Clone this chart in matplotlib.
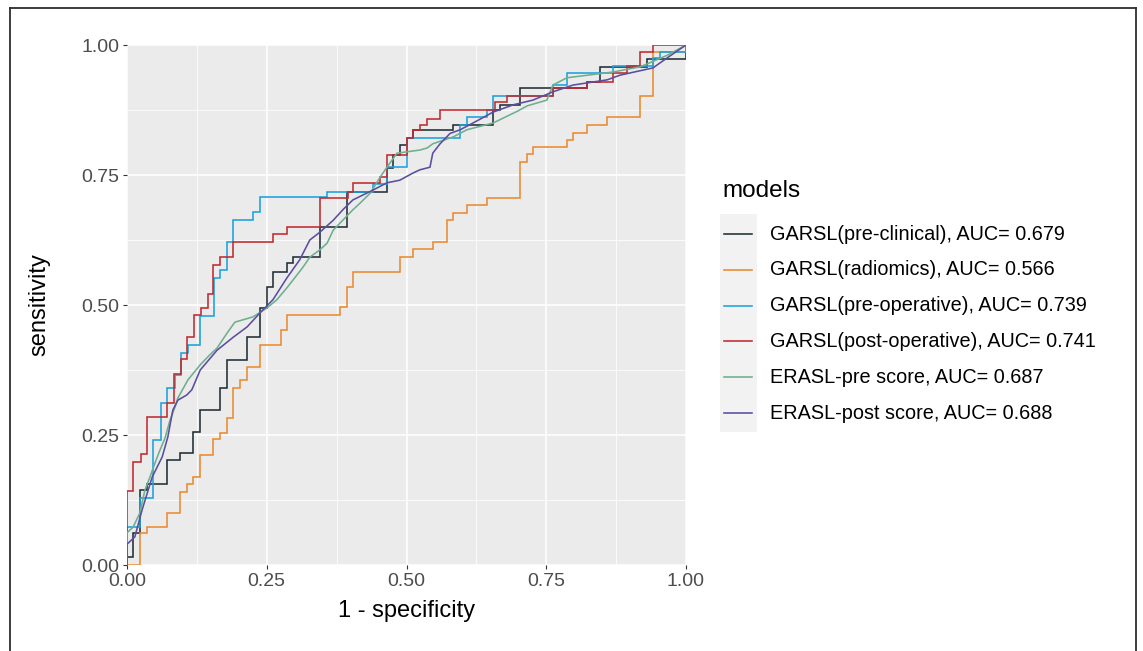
import matplotlib
matplotlib.use('Agg')
import matplotlib.pyplot as plt
from matplotlib.lines import Line2D
from matplotlib.patches import Rectangle

# ---------------- data ----------------
model_names = ["GARSL(pre-clinical)", "GARSL(radiomics)", "GARSL(pre-operative)",
               "GARSL(post-operative)", "ERASL-pre score", "ERASL-post score"]
auc_values = [0.679, 0.566, 0.739, 0.741, 0.687, 0.688]
model_colors = ["#1F2E36", "#EA8A2E", "#1BA2DC", "#BE2A2F", "#6DAF8E", "#5B4DA0"]

# step curves: fpr where the jump happens, tpr after the jump
pre_clinical_fpr = [0, 0, 0.011, 0.023, 0.036, 0.072, 0.095, 0.118, 0.131, 0.166, 0.179, 0.215,
                    0.238, 0.25, 0.261, 0.286, 0.297, 0.345, 0.394, 0.465, 0.476, 0.488, 0.501,
                    0.512, 0.583, 0.655, 0.667, 0.703, 0.823, 0.846, 0.93, 1.0]
pre_clinical_tpr = [0, 0.015, 0.062, 0.144, 0.156, 0.202, 0.215, 0.256, 0.298, 0.34, 0.394, 0.438,
                    0.494, 0.535, 0.563, 0.581, 0.592, 0.65, 0.717, 0.763, 0.788, 0.808, 0.821,
                    0.837, 0.846, 0.875, 0.885, 0.917, 0.929, 0.958, 0.973, 1.0]

radiomics_fpr = [0, 0.023, 0.036, 0.072, 0.095, 0.107, 0.118, 0.131, 0.154, 0.166, 0.179, 0.19,
                 0.202, 0.215, 0.238, 0.275, 0.286, 0.381, 0.394, 0.404, 0.488, 0.512, 0.547,
                 0.572, 0.583, 0.608, 0.644, 0.703, 0.716, 0.726, 0.787, 0.798, 0.823, 0.859,
                 0.918, 0.941, 1.0]
radiomics_tpr = [0, 0.062, 0.073, 0.1, 0.14, 0.156, 0.169, 0.212, 0.242, 0.254, 0.283, 0.34,
                 0.356, 0.381, 0.423, 0.452, 0.481, 0.496, 0.535, 0.563, 0.592, 0.608, 0.621,
                 0.663, 0.677, 0.692, 0.706, 0.775, 0.79, 0.804, 0.817, 0.831, 0.846, 0.862,
                 0.902, 0.987, 1.0]

pre_operative_fpr = [0, 0, 0.023, 0.047, 0.061, 0.072, 0.086, 0.097, 0.109, 0.131, 0.156, 0.166,
                     0.179, 0.19, 0.225, 0.238, 0.358, 0.44, 0.465, 0.501, 0.596, 0.608, 0.644,
                     0.655, 0.762, 0.787, 0.869, 0.941, 0.954, 1.0]
pre_operative_tpr = [0, 0.073, 0.128, 0.24, 0.311, 0.34, 0.365, 0.408, 0.423, 0.478, 0.552, 0.567,
                     0.621, 0.663, 0.679, 0.708, 0.717, 0.733, 0.765, 0.821, 0.846, 0.862, 0.875,
                     0.902, 0.923, 0.946, 0.96, 0.975, 0.987, 1.0]

post_operative_fpr = [0, 0, 0.011, 0.025, 0.035, 0.071, 0.084, 0.096, 0.108, 0.12, 0.132, 0.145,
                      0.154, 0.166, 0.19, 0.261, 0.286, 0.345, 0.395, 0.404, 0.453, 0.465, 0.501,
                      0.512, 0.524, 0.537, 0.56, 0.658, 0.68, 0.762, 0.823, 0.869, 0.894, 0.918,
                      0.941, 1.0]
post_operative_tpr = [0, 0.143, 0.199, 0.213, 0.284, 0.311, 0.367, 0.396, 0.438, 0.481, 0.494, 0.521,
                      0.577, 0.592, 0.621, 0.637, 0.65, 0.706, 0.717, 0.735, 0.746, 0.788, 0.821,
                      0.837, 0.846, 0.858, 0.875, 0.89, 0.902, 0.917, 0.929, 0.946, 0.96, 0.987,
                      1.0, 1.0]

erasl_pre_fpr = [0, 0, 0.011, 0.023, 0.032, 0.041, 0.05, 0.059, 0.068, 0.077, 0.086, 0.091, 0.109,
                 0.131, 0.148, 0.161, 0.179, 0.193, 0.225, 0.25, 0.268, 0.286, 0.297, 0.315, 0.327,
                 0.345, 0.358, 0.369, 0.386, 0.404, 0.417, 0.435, 0.453, 0.465, 0.483, 0.524,
                 0.537, 0.547, 0.583, 0.608, 0.655, 0.699, 0.716, 0.751, 0.762, 0.787, 0.869,
                 0.918, 0.966, 1.0]
erasl_pre_tpr = [0, 0.062, 0.073, 0.1, 0.144, 0.169, 0.196, 0.221, 0.244, 0.279, 0.304, 0.321,
                 0.356, 0.385, 0.404, 0.417, 0.446, 0.467, 0.477, 0.494, 0.51, 0.533, 0.548, 0.573,
                 0.592, 0.606, 0.619, 0.644, 0.663, 0.683, 0.696, 0.715, 0.746, 0.765, 0.792,
                 0.798, 0.802, 0.81, 0.823, 0.837, 0.85, 0.873, 0.883, 0.894, 0.923, 0.937,
                 0.948, 0.958, 0.98, 1.0]

erasl_post_fpr = [0, 0, 0.014, 0.027, 0.045, 0.063, 0.073, 0.082, 0.091, 0.107, 0.116, 0.131,
                  0.161, 0.19, 0.215, 0.238, 0.261, 0.286, 0.309, 0.327, 0.345, 0.369, 0.386,
                  0.404, 0.44, 0.465, 0.488, 0.512, 0.524, 0.542, 0.547, 0.56, 0.578, 0.596,
                  0.619, 0.655, 0.691, 0.726, 0.762, 0.798, 0.859, 0.882, 0.941, 0.966, 1.0]
erasl_post_tpr = [0, 0.04, 0.054, 0.106, 0.169, 0.208, 0.246, 0.298, 0.317, 0.327, 0.337, 0.375,
                  0.413, 0.438, 0.458, 0.485, 0.51, 0.552, 0.587, 0.625, 0.64, 0.663, 0.683,
                  0.702, 0.721, 0.735, 0.74, 0.754, 0.76, 0.765, 0.792, 0.81, 0.83, 0.837,
                  0.85, 0.871, 0.885, 0.894, 0.91, 0.923, 0.933, 0.942, 0.956, 0.975, 1.0]

tick_values = [0.0, 0.25, 0.5, 0.75, 1.0]
tick_labels = ["0.00", "0.25", "0.50", "0.75", "1.00"]
minor_values = [0.125, 0.375, 0.625, 0.875]

curves = [
    (pre_clinical_fpr, pre_clinical_tpr, 'steps-post'),
    (radiomics_fpr, radiomics_tpr, 'steps-post'),
    (pre_operative_fpr, pre_operative_tpr, 'steps-post'),
    (post_operative_fpr, post_operative_tpr, 'steps-post'),
    (erasl_pre_fpr, erasl_pre_tpr, 'default'),
    (erasl_post_fpr, erasl_post_tpr, 'default'),
]

# ---------------- figure ----------------
W, H = 1143, 651
plt.rcParams['font.family'] = ['Liberation Sans', 'DejaVu Sans']
fig = plt.figure(figsize=(W / 100, H / 100), dpi=100)

def fx(px):
    return px / W

def fy(py):
    return 1 - py / H

ax = fig.add_axes([fx(127), fy(565), (686 - 127) / W, (565 - 45) / H])
ax.set_facecolor('#EBEBEB')
ax.set_xlim(0, 1)
ax.set_ylim(0, 1)
for s in ax.spines.values():
    s.set_visible(False)

for v in minor_values:
    ax.axvline(v, color='white', lw=0.55, zorder=0.5)
    ax.axhline(v, color='white', lw=0.55, zorder=0.5)
for v in tick_values:
    ax.axvline(v, color='white', lw=1.1, zorder=0.6)
    ax.axhline(v, color='white', lw=1.1, zorder=0.6)

ax.set_xticks(tick_values)
ax.set_xticklabels(tick_labels)
ax.set_yticks(tick_values)
ax.set_yticklabels(tick_labels)
ax.tick_params(axis='both', length=3.2, width=0.8, color='#333333',
               labelsize=14, labelcolor='#4D4D4D', pad=2.5)

for (xs, ys, ds), col in zip(curves, model_colors):
    ax.plot(xs, ys, color=col, lw=1.15, drawstyle=ds, zorder=2, solid_joinstyle='miter')

ax.set_xlabel("1 - specificity", fontsize=17, color='black', labelpad=7.5)
ax.set_ylabel("sensitivity", fontsize=17, color='black', labelpad=22)

# ---------------- legend ----------------
fig.text(fx(722), fy(191), "models", fontsize=17.5, va='center', ha='left', color='black')
fig.add_artist(Rectangle((fx(720), fy(432)), (757 - 720) / W, (432 - 214) / H,
                         transform=fig.transFigure, facecolor='#F2F2F2', edgecolor='none'))
row_y = 234
for name, auc, col in zip(model_names, auc_values, model_colors):
    fig.add_artist(Line2D([fx(724), fx(752)], [fy(row_y), fy(row_y)], color=col, lw=1.15,
                          transform=fig.transFigure))
    fig.text(fx(770), fy(row_y), f"{name}, AUC= {auc:.3f}", fontsize=14.3, va='center',
             ha='left', color='black')
    row_y += 35.8

# ---------------- outer frame ----------------
frame_kw = dict(color='#2E2E2E', lw=1.3, transform=fig.transFigure)
fig.add_artist(Line2D([fx(9.5), fx(9.5)], [fy(7.5), 0], **frame_kw))
fig.add_artist(Line2D([fx(9.5), fx(1135.5)], [fy(7.5), fy(7.5)], **frame_kw))
fig.add_artist(Line2D([fx(1135.5), fx(1135.5)], [fy(7.5), 0], **frame_kw))

fig.savefig("out.png", dpi=100, facecolor='white')
